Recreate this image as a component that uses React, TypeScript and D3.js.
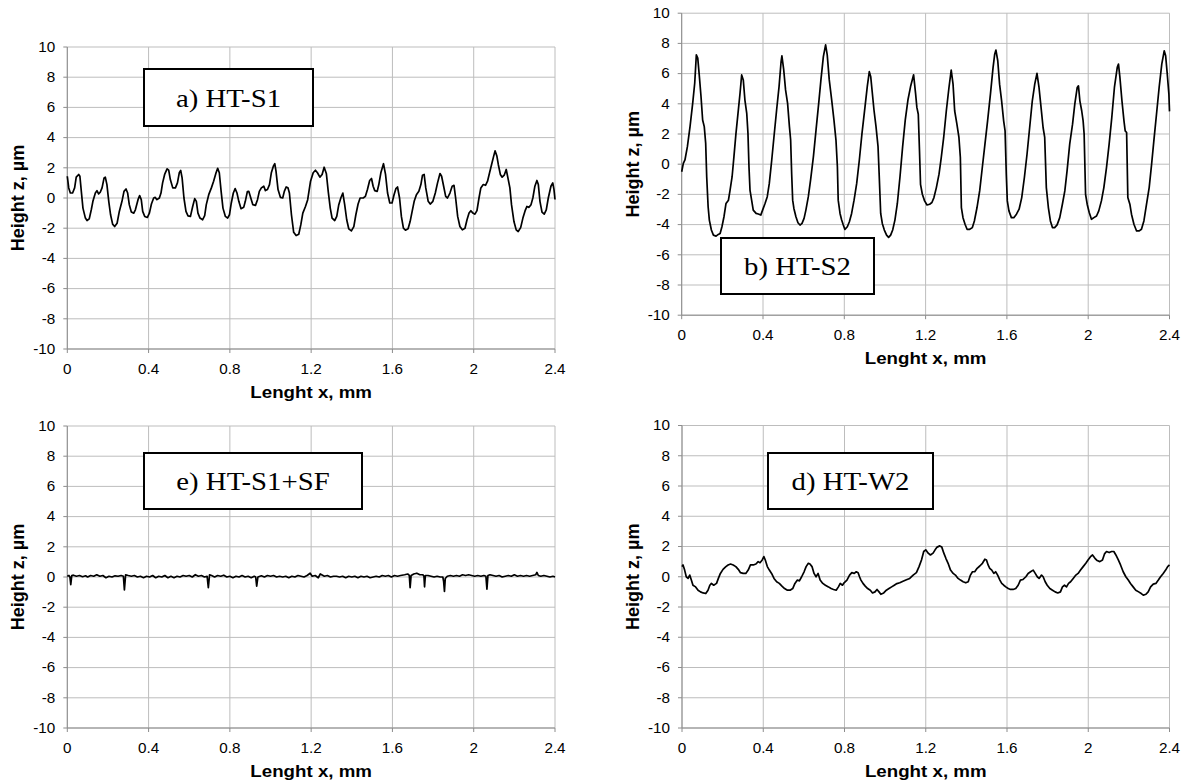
import React from 'react'
import * as d3 from 'd3'

const xTicks = [0, 0.4, 0.8, 1.2, 1.6, 2, 2.4]
const yTicks = [10, 8, 6, 4, 2, 0, -2, -4, -6, -8, -10]

const xTitle = 'Lenght x, mm'
const yTitle = 'Height z, µm'

// [x mm, z µm]
const profileS1: [number, number][] = [
  [0.0, 1.44], [0.007, 0.67], [0.015, 0.33], [0.026, 0.33], [0.036, 0.67], [0.044, 1.38], [0.056, 1.56],
  [0.062, 1.44], [0.069, 0.44], [0.077, -0.67], [0.089, -1.33], [0.097, -1.49], [0.108, -1.38], [0.118, -0.78],
  [0.126, -0.22], [0.138, 0.33], [0.146, 0.49], [0.154, 0.27], [0.162, 0.38], [0.171, 0.67], [0.181, 1.33],
  [0.187, 1.38], [0.195, 0.89], [0.204, -0.22], [0.213, -1.11], [0.223, -1.73], [0.233, -1.89], [0.245, -1.67],
  [0.256, -0.89], [0.269, -0.22], [0.279, 0.44], [0.289, 0.6], [0.297, 0.33], [0.305, -0.44], [0.315, -0.93],
  [0.327, -1.0], [0.335, -0.78], [0.348, -0.11], [0.356, 0.16], [0.364, -0.11], [0.371, -0.89], [0.381, -1.22],
  [0.394, -1.29], [0.404, -1.0], [0.414, -0.4], [0.425, 0.0], [0.433, 0.04], [0.441, -0.11], [0.453, 0.0],
  [0.461, 0.33], [0.469, 1.0], [0.479, 1.56], [0.491, 1.93], [0.499, 1.84], [0.507, 1.22], [0.519, 0.67],
  [0.532, 0.67], [0.542, 1.0], [0.551, 1.67], [0.558, 1.82], [0.565, 1.33], [0.574, 0.0], [0.584, -0.89],
  [0.594, -1.18], [0.606, -1.22], [0.617, -0.56], [0.627, -0.04], [0.635, -0.22], [0.643, -1.0], [0.653, -1.33],
  [0.666, -1.44], [0.676, -1.16], [0.684, -0.44], [0.696, 0.22], [0.709, 0.67], [0.72, 1.11], [0.732, 1.67],
  [0.74, 1.96], [0.748, 1.67], [0.757, 0.44], [0.766, -0.67], [0.778, -1.22], [0.789, -1.33], [0.798, -1.11],
  [0.807, -0.33], [0.817, 0.33], [0.826, 0.62], [0.835, 0.33], [0.844, -0.22], [0.855, -0.71], [0.868, -0.62],
  [0.876, -0.22], [0.886, 0.42], [0.893, 0.44], [0.903, 0.0], [0.913, -0.44], [0.926, -0.49], [0.936, -0.11],
  [0.945, 0.44], [0.955, 0.67], [0.967, 0.78], [0.975, 0.49], [0.985, 0.56], [0.995, 0.89], [1.004, 1.67],
  [1.014, 2.11], [1.021, 2.27], [1.027, 1.78], [1.037, 0.56], [1.049, 0.04], [1.06, 0.0], [1.068, 0.44],
  [1.077, 0.73], [1.086, 0.67], [1.093, 0.33], [1.103, -1.11], [1.114, -2.27], [1.126, -2.49], [1.139, -2.4],
  [1.149, -1.78], [1.159, -1.0], [1.172, -0.56], [1.183, -0.11], [1.197, 1.11], [1.21, 1.67], [1.221, 1.84],
  [1.231, 1.67], [1.243, 1.38], [1.254, 1.56], [1.264, 2.04], [1.275, 1.6], [1.284, 0.44], [1.294, -0.67],
  [1.303, -1.33], [1.316, -1.49], [1.326, -1.22], [1.336, -0.44], [1.346, 0.0], [1.356, 0.33], [1.365, -0.44],
  [1.375, -1.44], [1.385, -2.04], [1.398, -2.18], [1.41, -1.89], [1.42, -1.11], [1.431, -0.4], [1.441, 0.0],
  [1.456, 0.0], [1.467, 0.11], [1.477, 0.56], [1.488, 1.16], [1.497, 1.29], [1.505, 0.78], [1.513, 0.49],
  [1.525, 0.44], [1.533, 0.89], [1.543, 1.67], [1.556, 2.27], [1.566, 1.56], [1.576, 0.33], [1.587, -0.33],
  [1.598, -0.33], [1.608, 0.22], [1.617, 0.62], [1.625, 0.73], [1.635, 0.0], [1.644, -1.22], [1.654, -2.0],
  [1.664, -2.13], [1.677, -2.04], [1.687, -1.56], [1.697, -0.89], [1.707, -0.22], [1.718, 0.22], [1.73, 0.44],
  [1.74, 0.89], [1.748, 1.51], [1.756, 1.56], [1.764, 0.67], [1.776, -0.22], [1.786, -0.4], [1.799, -0.22],
  [1.811, 0.33], [1.822, 1.0], [1.834, 1.62], [1.842, 1.44], [1.852, 0.78], [1.862, 0.11], [1.871, 0.0],
  [1.883, 0.33], [1.894, 0.78], [1.903, 0.84], [1.911, 0.0], [1.921, -1.22], [1.932, -1.89], [1.944, -2.11],
  [1.957, -2.0], [1.967, -1.44], [1.977, -1.0], [1.986, -0.84], [1.996, -1.0], [2.006, -1.07], [2.016, -0.84],
  [2.026, 0.0], [2.035, 0.67], [2.047, 0.89], [2.058, 0.84], [2.068, 1.11], [2.078, 1.67], [2.088, 2.22],
  [2.097, 2.71], [2.105, 3.12], [2.114, 2.78], [2.121, 2.22], [2.131, 1.56], [2.14, 1.38], [2.15, 1.51],
  [2.16, 1.89], [2.17, 1.22], [2.178, 0.67], [2.186, -0.44], [2.198, -1.56], [2.209, -2.11], [2.219, -2.22],
  [2.231, -1.96], [2.242, -1.33], [2.253, -0.84], [2.262, -0.56], [2.272, -0.62], [2.282, -0.44], [2.291, 0.0],
  [2.301, 0.78], [2.311, 1.16], [2.318, 0.89], [2.326, -0.22], [2.336, -0.93], [2.347, -1.07], [2.357, -0.78],
  [2.367, 0.0], [2.38, 0.78], [2.389, 1.0], [2.395, 0.56], [2.4, -0.1],
]

const profileS2: [number, number][] = [
  [0.0, -0.5], [0.008, 0.05], [0.016, 0.28], [0.028, 1.16], [0.041, 2.49], [0.054, 4.03], [0.064, 5.36],
  [0.072, 7.24], [0.079, 7.02], [0.087, 5.8], [0.095, 4.48], [0.103, 2.93], [0.111, 2.49], [0.118, 1.38],
  [0.123, -0.83], [0.13, -2.82], [0.136, -3.7], [0.146, -4.36], [0.156, -4.7], [0.169, -4.76], [0.18, -4.65],
  [0.189, -4.59], [0.198, -4.14], [0.208, -3.48], [0.218, -2.6], [0.23, -2.38], [0.238, -1.71], [0.248, -0.83],
  [0.257, 0.5], [0.267, 2.04], [0.277, 3.37], [0.287, 4.7], [0.295, 5.91], [0.303, 5.58], [0.311, 4.25],
  [0.32, 3.37], [0.326, 2.04], [0.331, -0.17], [0.336, -1.71], [0.344, -2.38], [0.352, -3.04], [0.366, -3.26],
  [0.377, -3.3], [0.389, -3.37], [0.398, -3.04], [0.41, -2.6], [0.421, -2.15], [0.431, -1.27], [0.443, 0.28],
  [0.454, 1.82], [0.467, 3.59], [0.479, 5.14], [0.489, 6.8], [0.493, 7.17], [0.502, 6.24], [0.511, 4.92],
  [0.521, 4.03], [0.53, 2.49], [0.536, 1.6], [0.541, -0.61], [0.546, -2.38], [0.552, -2.93], [0.562, -3.48],
  [0.572, -3.88], [0.582, -4.03], [0.592, -3.92], [0.602, -3.59], [0.611, -3.04], [0.623, -2.15], [0.634, -1.05],
  [0.648, 0.5], [0.661, 2.27], [0.674, 4.03], [0.685, 5.58], [0.697, 7.13], [0.708, 7.9], [0.716, 7.24],
  [0.726, 5.58], [0.738, 4.25], [0.749, 2.93], [0.759, 1.6], [0.766, -0.17], [0.77, -2.38], [0.779, -3.26],
  [0.787, -3.7], [0.795, -4.03], [0.803, -4.32], [0.815, -4.14], [0.825, -3.81], [0.836, -3.26], [0.848, -2.38],
  [0.861, -1.27], [0.874, 0.28], [0.887, 2.04], [0.902, 3.81], [0.913, 5.14], [0.923, 6.13], [0.93, 5.8],
  [0.938, 4.7], [0.946, 3.59], [0.956, 2.49], [0.966, 1.16], [0.972, -0.83], [0.979, -3.26], [0.987, -3.92],
  [0.997, -4.36], [1.008, -4.7], [1.018, -4.85], [1.028, -4.7], [1.038, -4.36], [1.049, -3.7], [1.061, -2.6],
  [1.074, -0.83], [1.087, 1.16], [1.1, 2.93], [1.113, 4.25], [1.126, 5.14], [1.141, 5.92], [1.151, 4.64],
  [1.157, 3.76], [1.164, 3.31], [1.17, 0.88], [1.175, -1.33], [1.184, -1.99], [1.195, -2.43], [1.207, -2.7],
  [1.22, -2.65], [1.231, -2.54], [1.241, -2.21], [1.253, -1.55], [1.266, -0.66], [1.277, 0.44], [1.289, 1.77],
  [1.302, 3.54], [1.315, 5.08], [1.326, 6.23], [1.335, 5.3], [1.343, 3.54], [1.354, 2.65], [1.364, 1.77],
  [1.371, 0.44], [1.376, -2.87], [1.384, -3.54], [1.394, -3.98], [1.404, -4.31], [1.417, -4.31], [1.43, -4.2],
  [1.44, -3.76], [1.453, -2.87], [1.466, -1.77], [1.479, -0.22], [1.492, 1.33], [1.505, 2.87], [1.519, 4.64],
  [1.532, 6.41], [1.54, 7.29], [1.546, 7.56], [1.555, 6.85], [1.564, 5.3], [1.574, 4.2], [1.584, 2.87],
  [1.591, 2.21], [1.597, -0.66], [1.602, -2.43], [1.61, -3.09], [1.622, -3.54], [1.634, -3.54], [1.647, -3.31],
  [1.66, -2.98], [1.673, -2.21], [1.686, -0.88], [1.699, 0.66], [1.712, 2.43], [1.725, 4.2], [1.737, 5.3],
  [1.748, 6.01], [1.758, 5.08], [1.768, 3.76], [1.778, 2.43], [1.786, 1.77], [1.794, -1.55], [1.804, -2.87],
  [1.814, -3.76], [1.824, -4.2], [1.835, -4.2], [1.847, -4.02], [1.86, -3.54], [1.873, -2.65], [1.885, -1.77],
  [1.896, -0.44], [1.909, 1.33], [1.923, 2.65], [1.934, 3.98], [1.946, 5.08], [1.952, 5.19], [1.959, 4.2],
  [1.968, 3.54], [1.975, 2.87], [1.98, 1.99], [1.987, -1.99], [1.995, -2.65], [2.005, -3.2], [2.016, -3.65],
  [2.028, -3.54], [2.041, -3.43], [2.052, -3.09], [2.065, -2.43], [2.077, -1.55], [2.09, -0.22], [2.103, 1.33],
  [2.116, 3.09], [2.129, 5.08], [2.143, 6.41], [2.149, 6.63], [2.156, 5.75], [2.166, 4.2], [2.176, 2.87],
  [2.182, 2.21], [2.189, 2.1], [2.195, -2.21], [2.205, -2.65], [2.213, -3.31], [2.225, -3.98], [2.238, -4.42],
  [2.251, -4.42], [2.262, -4.31], [2.274, -3.76], [2.287, -2.65], [2.3, -1.55], [2.312, 0.0], [2.323, 1.55],
  [2.336, 3.31], [2.349, 5.08], [2.362, 6.63], [2.374, 7.51], [2.381, 7.18], [2.389, 5.97], [2.397, 4.64],
  [2.4, 3.5],
]

const profileS1SF: [number, number][] = [
  [0.0, 0.05], [0.008, 0.1], [0.013, 0.0], [0.017, -0.5], [0.022, 0.1], [0.03, 0.12], [0.045, 0.05],
  [0.06, 0.1], [0.075, 0.02], [0.09, 0.08], [0.1, 0.0], [0.115, 0.1], [0.13, 0.05], [0.145, 0.15],
  [0.16, 0.05], [0.175, 0.1], [0.19, -0.05], [0.205, 0.05], [0.22, 0.0], [0.235, 0.08], [0.25, 0.05],
  [0.265, 0.1], [0.276, 0.05], [0.281, -0.85], [0.287, 0.15], [0.3, 0.1], [0.315, 0.05], [0.33, 0.1],
  [0.345, 0.0], [0.36, 0.05], [0.375, -0.05], [0.39, 0.05], [0.405, 0.0], [0.42, 0.1], [0.435, -0.05],
  [0.45, 0.05], [0.465, 0.0], [0.48, 0.1], [0.495, -0.05], [0.51, 0.05], [0.525, -0.05], [0.54, 0.05],
  [0.555, 0.0], [0.57, 0.1], [0.585, 0.05], [0.6, 0.1], [0.615, 0.0], [0.63, 0.15], [0.645, 0.05],
  [0.66, 0.1], [0.675, 0.0], [0.688, 0.05], [0.694, -0.7], [0.7, 0.15], [0.71, 0.1], [0.725, 0.0],
  [0.74, 0.1], [0.755, 0.05], [0.77, 0.12], [0.785, 0.0], [0.8, 0.05], [0.815, -0.05], [0.83, 0.05],
  [0.845, 0.0], [0.86, 0.1], [0.875, 0.0], [0.89, 0.05], [0.905, -0.05], [0.92, 0.05], [0.927, 0.0],
  [0.932, -0.6], [0.938, 0.0], [0.955, 0.08], [0.97, 0.0], [0.985, 0.1], [1.0, 0.05], [1.015, 0.1],
  [1.03, 0.0], [1.045, 0.05], [1.06, 0.0], [1.075, 0.05], [1.09, -0.05], [1.105, 0.05], [1.12, 0.0],
  [1.135, 0.1], [1.15, 0.05], [1.165, 0.0], [1.18, 0.1], [1.195, 0.25], [1.205, 0.05], [1.22, 0.1],
  [1.235, -0.05], [1.245, 0.2], [1.265, 0.05], [1.28, 0.1], [1.295, 0.0], [1.31, 0.05], [1.325, 0.05],
  [1.34, 0.0], [1.355, 0.05], [1.37, -0.05], [1.385, 0.05], [1.4, 0.0], [1.415, 0.05], [1.43, -0.05],
  [1.445, 0.05], [1.46, 0.0], [1.475, 0.05], [1.49, -0.05], [1.505, 0.0], [1.52, 0.05], [1.535, 0.0],
  [1.55, 0.1], [1.565, 0.05], [1.58, 0.1], [1.595, 0.0], [1.61, 0.1], [1.625, 0.05], [1.64, 0.1],
  [1.66, 0.15], [1.675, 0.2], [1.683, 0.1], [1.687, -0.7], [1.692, 0.1], [1.705, 0.2], [1.72, 0.25],
  [1.735, 0.15], [1.75, 0.15], [1.755, 0.05], [1.758, -0.65], [1.762, 0.1], [1.775, 0.1], [1.79, 0.05],
  [1.805, 0.0], [1.82, 0.05], [1.835, 0.0], [1.848, 0.0], [1.852, -0.3], [1.856, -0.95], [1.86, -0.1],
  [1.87, 0.05], [1.885, 0.1], [1.9, 0.05], [1.915, 0.1], [1.93, 0.05], [1.945, 0.15], [1.96, 0.1],
  [1.975, 0.15], [1.99, 0.1], [2.005, 0.05], [2.02, 0.1], [2.035, 0.05], [2.05, 0.1], [2.06, 0.05],
  [2.065, -0.8], [2.07, 0.1], [2.08, 0.15], [2.095, 0.1], [2.11, 0.05], [2.125, 0.1], [2.14, 0.0],
  [2.155, 0.05], [2.17, 0.1], [2.185, 0.05], [2.2, 0.15], [2.215, 0.05], [2.23, 0.1], [2.245, 0.05],
  [2.26, 0.1], [2.275, 0.05], [2.29, 0.1], [2.305, 0.15], [2.311, 0.3], [2.318, 0.1], [2.33, 0.05],
  [2.345, 0.1], [2.36, 0.05], [2.375, 0.0], [2.39, 0.05], [2.4, 0.0],
]

const profileW2: [number, number][] = [
  [0.0, 0.67], [0.005, 0.78], [0.013, 0.44], [0.021, 0.0], [0.03, -0.11], [0.038, 0.11], [0.046, -0.22],
  [0.054, -0.56], [0.067, -0.67], [0.079, -0.89], [0.091, -1.0], [0.104, -1.07], [0.117, -1.11], [0.128, -0.89],
  [0.137, -0.56], [0.145, -0.44], [0.156, -0.56], [0.17, -0.44], [0.179, -0.11], [0.189, 0.22], [0.202, 0.49],
  [0.216, 0.67], [0.227, 0.78], [0.239, 0.84], [0.252, 0.78], [0.265, 0.67], [0.277, 0.49], [0.288, 0.27],
  [0.301, 0.22], [0.314, 0.22], [0.326, 0.44], [0.337, 0.78], [0.351, 0.78], [0.364, 0.84], [0.375, 1.0],
  [0.384, 0.93], [0.395, 1.11], [0.403, 1.33], [0.41, 1.11], [0.42, 0.67], [0.43, 0.44], [0.441, 0.22],
  [0.453, -0.11], [0.466, -0.33], [0.479, -0.44], [0.492, -0.62], [0.505, -0.78], [0.519, -0.89], [0.532, -0.89],
  [0.545, -0.78], [0.556, -0.44], [0.568, -0.22], [0.578, -0.27], [0.589, 0.0], [0.601, 0.33], [0.611, 0.67],
  [0.622, 0.89], [0.63, 0.84], [0.64, 0.67], [0.65, 0.22], [0.66, 0.0], [0.67, 0.22], [0.68, -0.22],
  [0.693, -0.44], [0.706, -0.56], [0.721, -0.67], [0.734, -0.78], [0.746, -0.84], [0.759, -0.89], [0.77, -0.67],
  [0.779, -0.44], [0.79, -0.56], [0.798, -0.4], [0.812, -0.22], [0.825, 0.11], [0.836, 0.27], [0.848, 0.22],
  [0.858, 0.33], [0.867, 0.27], [0.874, 0.0], [0.881, -0.22], [0.891, -0.44], [0.902, -0.62], [0.914, -0.78],
  [0.927, -0.89], [0.938, -1.07], [0.95, -1.0], [0.96, -0.84], [0.97, -1.0], [0.979, -1.16], [0.993, -1.07],
  [1.006, -0.89], [1.019, -0.78], [1.032, -0.67], [1.045, -0.56], [1.058, -0.45], [1.072, -0.4], [1.088, -0.3],
  [1.105, -0.2], [1.121, -0.11], [1.138, 0.11], [1.154, 0.27], [1.167, 0.67], [1.179, 1.11], [1.19, 1.67],
  [1.2, 1.78], [1.212, 1.56], [1.223, 1.44], [1.236, 1.56], [1.246, 1.78], [1.256, 1.96], [1.269, 2.04],
  [1.279, 1.96], [1.289, 1.56], [1.299, 1.22], [1.31, 0.89], [1.322, 0.44], [1.335, 0.22], [1.346, 0.11],
  [1.359, -0.11], [1.371, -0.22], [1.384, -0.33], [1.397, -0.4], [1.409, -0.33], [1.42, 0.11], [1.43, 0.33],
  [1.441, 0.33], [1.453, 0.56], [1.466, 0.71], [1.479, 0.89], [1.491, 1.16], [1.499, 1.11], [1.507, 0.78],
  [1.515, 0.56], [1.525, 0.44], [1.535, 0.22], [1.544, 0.33], [1.554, 0.11], [1.565, -0.22], [1.574, -0.44],
  [1.584, -0.56], [1.594, -0.67], [1.606, -0.78], [1.617, -0.84], [1.63, -0.84], [1.643, -0.78], [1.655, -0.56],
  [1.666, -0.22], [1.679, -0.18], [1.693, 0.0], [1.704, 0.22], [1.716, 0.33], [1.729, 0.44], [1.739, 0.22],
  [1.749, 0.0], [1.758, -0.11], [1.77, 0.11], [1.778, 0.0], [1.788, -0.33], [1.798, -0.56], [1.811, -0.78],
  [1.824, -0.89], [1.837, -1.0], [1.85, -1.07], [1.863, -1.0], [1.873, -0.67], [1.883, -0.56], [1.893, -0.67],
  [1.903, -0.44], [1.913, -0.33], [1.926, -0.11], [1.939, 0.11], [1.95, 0.22], [1.962, 0.44], [1.975, 0.67],
  [1.988, 0.89], [1.999, 1.11], [2.011, 1.33], [2.021, 1.44], [2.033, 1.22], [2.044, 1.07], [2.057, 1.0],
  [2.07, 1.11], [2.08, 1.51], [2.09, 1.67], [2.103, 1.6], [2.115, 1.67], [2.126, 1.67], [2.136, 1.44],
  [2.148, 1.11], [2.159, 0.78], [2.172, 0.33], [2.185, 0.0], [2.197, -0.22], [2.208, -0.44], [2.221, -0.67],
  [2.234, -0.89], [2.248, -1.0], [2.261, -1.11], [2.271, -1.22], [2.284, -1.16], [2.295, -1.0], [2.307, -0.67],
  [2.32, -0.49], [2.333, -0.44], [2.345, -0.22], [2.356, 0.0], [2.369, 0.22], [2.381, 0.44], [2.391, 0.67],
  [2.4, 0.78],
]

const panelLabels = ['a) HT-S1', 'b) HT-S2', 'e) HT-S1+SF', 'd) HT-W2']

const panels = [
  { data: profileS1, label: panelLabels[0], left: 67.3, top: 47, width: 487.7, height: 302, box: { x: 144, y: 69, w: 169, h: 57 } },
  { data: profileS2, label: panelLabels[1], left: 681.7, top: 13.2, width: 487.8, height: 302, box: { x: 721, y: 238, w: 153, h: 56 } },
  { data: profileS1SF, label: panelLabels[2], left: 67.3, top: 426, width: 487.7, height: 302, box: { x: 144, y: 453, w: 218, h: 56 } },
  { data: profileW2, label: panelLabels[3], left: 682, top: 425.5, width: 487.5, height: 302.5, box: { x: 768, y: 453, w: 165, h: 56 } },
]

const sans = 'Liberation Sans, Arial, sans-serif'
const serif = 'Liberation Serif, Times New Roman, serif'
const gridColor = '#bdbdbd'
const axisColor = '#8c8c8c'
// the source picture is a little wider than tall, text included
const stretch = 1.09

function Panel({ data, label, left, top, width, height, box }) {
  const x = d3.scaleLinear().domain([0, 2.4]).range([left, left + width])
  const y = d3.scaleLinear().domain([-10, 10]).range([top + height, top])
  const line = d3
    .line<[number, number]>()
    .x((d) => x(d[0]))
    .y((d) => y(d[1]))

  const bottom = top + height
  const cx = left + width / 2
  const cy = top + height / 2

  return (
    <g>
      {yTicks.map((t) => (
        <line key={'gy' + t} x1={left} x2={left + width} y1={y(t)} y2={y(t)} stroke={gridColor} strokeWidth={1} />
      ))}
      {xTicks.map((t) => (
        <line key={'gx' + t} x1={x(t)} x2={x(t)} y1={top} y2={bottom} stroke={gridColor} strokeWidth={1} />
      ))}
      <line x1={left} x2={left} y1={top} y2={bottom} stroke={axisColor} strokeWidth={1} />
      <line x1={left} x2={left + width} y1={bottom} y2={bottom} stroke={axisColor} strokeWidth={1} />
      {yTicks.map((t) => (
        <g key={'ty' + t}>
          <line x1={left - 4} x2={left} y1={y(t)} y2={y(t)} stroke={axisColor} />
          <text
            transform={`translate(${left - 12},${y(t)}) scale(${stretch},1)`}
            textAnchor="end"
            dominantBaseline="central"
            style={{ fontFamily: sans, fontSize: 14, fill: '#000' }}
          >
            {t}
          </text>
        </g>
      ))}
      {xTicks.map((t) => (
        <g key={'tx' + t}>
          <line x1={x(t)} x2={x(t)} y1={bottom} y2={bottom + 4} stroke={axisColor} />
          <text
            transform={`translate(${x(t)},${bottom + 20}) scale(${stretch},1)`}
            textAnchor="middle"
            dominantBaseline="central"
            style={{ fontFamily: sans, fontSize: 14, fill: '#000' }}
          >
            {t}
          </text>
        </g>
      ))}
      <text
        transform={`translate(${cx},${bottom + 43}) scale(1.17,1)`}
        textAnchor="middle"
        dominantBaseline="central"
        style={{ fontFamily: sans, fontSize: 16, fontWeight: 'bold' }}
      >
        {xTitle}
      </text>
      <text
        transform={`translate(${left - 49},${cy}) rotate(-90)`}
        textAnchor="middle"
        dominantBaseline="central"
        style={{ fontFamily: sans, fontSize: 18, fontWeight: 'bold' }}
      >
        {yTitle}
      </text>
      <path d={line(data) || ''} fill="none" stroke="#000" strokeWidth={1.7} strokeLinejoin="round" />
      <rect x={box.x} y={box.y} width={box.w} height={box.h} fill="#fff" stroke="#000" strokeWidth={2} />
      <text
        transform={`translate(${box.x + box.w / 2},${box.y + box.h / 2 + 1}) scale(1.15,1)`}
        textAnchor="middle"
        dominantBaseline="central"
        style={{ fontFamily: serif, fontSize: 25, fill: '#000' }}
      >
        {label}
      </text>
    </g>
  )
}

export default function App() {
  return (
    <svg width={1190} height={784} style={{ position: 'absolute', left: 0, top: 0, background: '#fff' }}>
      {panels.map((p, i) => (
        <Panel key={i} {...p} />
      ))}
    </svg>
  )
}
